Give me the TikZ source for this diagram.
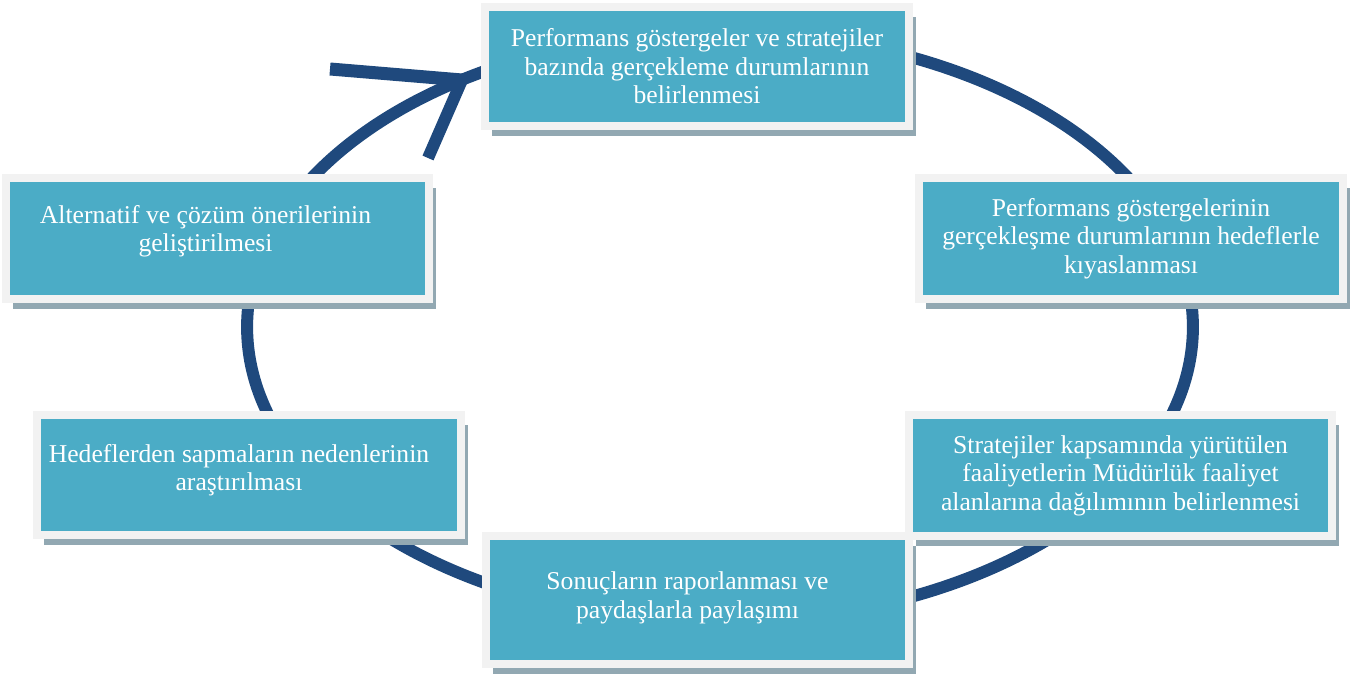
\documentclass[tikz,border=0pt]{standalone}
\usepackage{fontspec}
\setmainfont{Liberation Serif}
\usetikzlibrary{shadows}

\definecolor{boxteal}{HTML}{4BACC6}
\definecolor{boxframe}{HTML}{F2F2F2}
\definecolor{boxshade}{HTML}{92A8B2}
\definecolor{cycleblue}{HTML}{1F497D}

\tikzset{
  boxtext/.style={text=white, align=center, font=\fontsize{14.6}{16.2}\selectfont},
  stepbox/.style={boxtext, rectangle, fill=boxteal, draw=boxframe, line width=0.16cm,
    minimum width=8.48cm, minimum height=2.42cm, inner sep=0pt,
    drop shadow={shadow xshift=0.14cm, shadow yshift=-0.2cm, fill=boxshade, opacity=1}},
  cycleline/.style={draw=cycleblue, line width=0.24cm}
}

\begin{document}
\begin{tikzpicture}[x=0.02cm, y=-0.02cm]
\useasboundingbox (0,0) rectangle (1361,678);

% the cycle and its arrow head
\draw[cycleline] (720,327) ellipse [x radius=9.46cm, y radius=5.9cm];
\coordinate (tip) at (462,80);
\coordinate (barbA) at (330,69);
\coordinate (barbB) at (428,158);
\draw[cycleline, line width=0.26cm] (barbA) -- (tip);
\draw[cycleline] (barbB) -- (tip);

% the six steps
\node[stepbox, minimum height=2.38cm] (bazinda) at (697,66.5)
  {Performans göstergeler ve stratejiler\\bazında gerçekleme durumlarının\\belirlenmesi};
\node[stepbox] (kiyas) at (1131,238.5)
  {Performans göstergelerinin\\gerçekleşme durumlarının hedeflerle\\kıyaslanması};
\node[stepbox] (dagilim) at (1120.5,475.5)
  {Stratejiler kapsamında yürütülen\\faaliyetlerin Müdürlük faaliyet\\alanlarına dağılımının belirlenmesi};
\node[stepbox, minimum height=2.56cm,
  label={[boxtext, shift={(-10,-2)}]center:{Sonuçların raporlanması ve\\paydaşlarla paylaşımı}}]
  (rapor) at (697.5,600) {};
\node[stepbox,
  label={[boxtext, shift={(-10,-5)}]center:{Hedeflerden sapmaların nedenlerinin\\araştırılması}}]
  (sapma) at (249,475) {};
\node[stepbox,
  label={[boxtext, shift={(-12,-7)}]center:{Alternatif ve çözüm önerilerinin\\geliştirilmesi}}]
  (cozum) at (217.5,238.5) {};
\end{tikzpicture}
\end{document}
